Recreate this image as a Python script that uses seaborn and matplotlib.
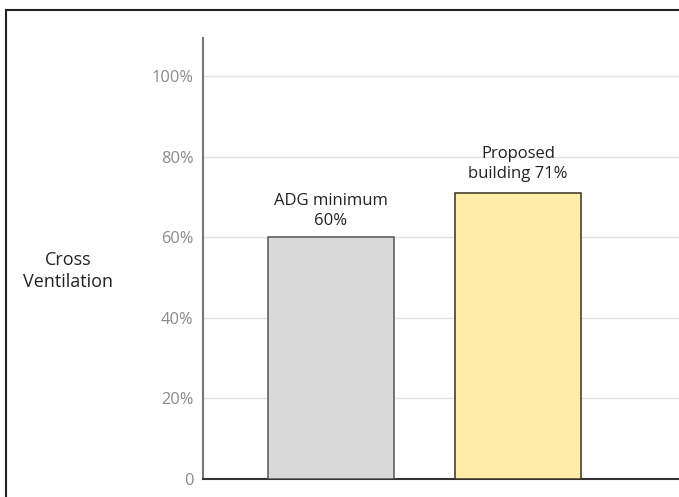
import matplotlib
matplotlib.use("Agg")
import matplotlib.pyplot as plt
import matplotlib.patches as mpatches
import seaborn as sns
import pandas as pd

# Cross ventilation compliance
categories = ["ADG minimum", "Proposed building"]
values = [60, 71]
bar_labels = ["ADG minimum\n{:.0f}%", "Proposed\nbuilding {:.0f}%"]
bar_colors = ["#d9d9d9", "#ffeda8"]
edge_colors = ["#555555", "#3a3222"]
y_ticks = [0, 20, 40, 60, 80, 100]
y_tick_labels = ["0", "20%", "40%", "60%", "80%", "100%"]

sns.set_style("white")
plt.rcParams["font.family"] = ["Open Sans", "DejaVu Sans"]

df = pd.DataFrame({"category": categories, "value": values})

W, H = 679, 497
fig = plt.figure(figsize=(W / 100, H / 100), dpi=100)
ax = fig.add_axes([203 / W, (H - 479) / H, (W - 203) / W, (479 - 38) / H])

sns.barplot(data=df, x="category", y="value", hue="category",
            palette=bar_colors, saturation=1, width=0.674, legend=False,
            ax=ax, linewidth=1.1, zorder=3)
for patch, ec in zip(ax.patches, edge_colors):
    patch.set_edgecolor(ec)

ax.set_xlim(-0.684, 1.861)
ax.set_ylim(0, 109.4)
ax.set_yticks(y_ticks)
ax.set_yticklabels(y_tick_labels, color="#8a8a8a", fontsize=11.8)
ax.tick_params(axis="y", length=0, pad=7)
ax.set_xticks([])
ax.set_xlabel("")
ax.set_ylabel("")
ax.grid(axis="y", color="#e2e2e2", linewidth=1, zorder=0)
ax.set_axisbelow(True)

for side in ["top", "right"]:
    ax.spines[side].set_visible(False)
ax.spines["left"].set_color("#777777")
ax.spines["left"].set_linewidth(1.5)
ax.spines["bottom"].set_color("#333333")
ax.spines["bottom"].set_linewidth(1.5)

label_offsets = [6, 8]
for i, (v, fmt) in enumerate(zip(values, bar_labels)):
    ax.annotate(fmt.format(v), xy=(i, v), xytext=(0, label_offsets[i]),
                textcoords="offset points", ha="center", va="bottom",
                fontsize=12, color="#222222", linespacing=1.3)

fig.text(68 / W, 1 - 271 / H, "Cross\nVentilation", ha="center", va="center",
         fontsize=13, color="#222222", linespacing=1.3)

# frame around the figure
fig.patches.append(mpatches.Rectangle((6 / W, -0.05), 1.1, 1 - 10 / H + 0.05,
                                      transform=fig.transFigure, fill=False,
                                      edgecolor="#222222", linewidth=1.5))

fig.savefig("out.png", dpi=100, facecolor="white")
